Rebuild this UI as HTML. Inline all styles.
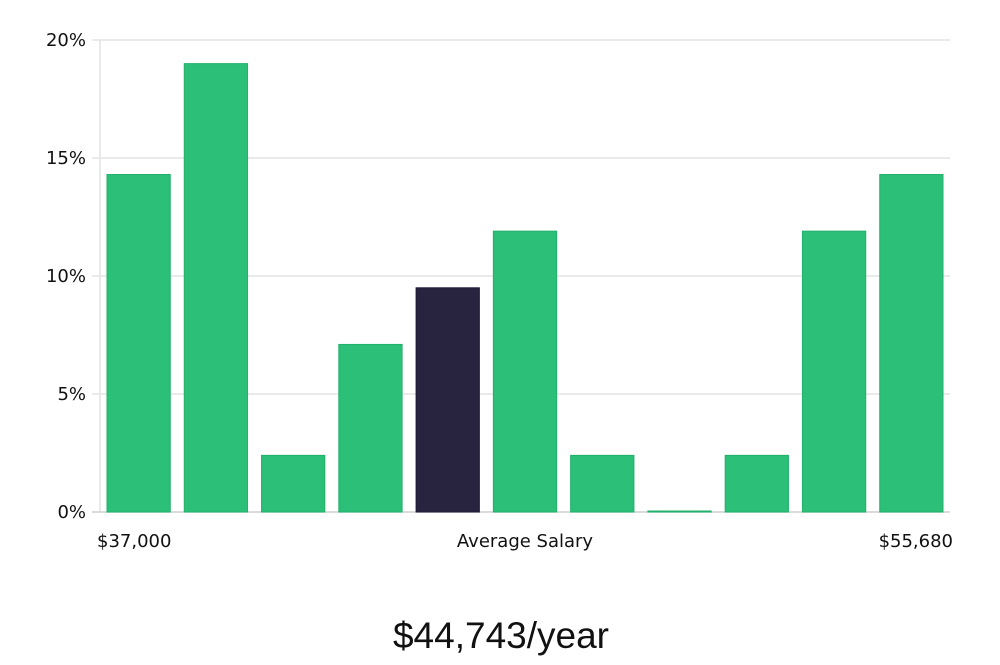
<!DOCTYPE html>
<html><head><meta charset="utf-8"><style>
body{margin:0;background:#fff;width:1000px;height:660px;overflow:hidden}
svg text{font-family:"DejaVu Sans","Liberation Sans",sans-serif;fill:#111}
</style></head><body>
<svg id="chart" width="1000" height="660" xmlns="http://www.w3.org/2000/svg">
<g id="grid"></g><g id="bars"></g><g id="labels"></g>
<text x="97" y="547" font-size="18">$37,000</text>
<text x="525" y="547" font-size="18" text-anchor="middle">Average Salary</text>
<text x="953" y="547" font-size="18" text-anchor="end">$55,680</text>
<text x="501" y="648" font-size="37" text-anchor="middle" font-family="Liberation Sans" style="font-family:'Liberation Sans',sans-serif;font-weight:300">$44,743/year</text>
</svg>
<script>
const categories=["b1","b2","b3","b4","b5","b6","b7","b8","b9","b10","b11"];
const values=[14.3,19.0,2.4,7.1,9.5,11.9,2.4,0,2.4,11.9,14.3];
const highlightIndex=4;
const yTicks=[0,5,10,15,20];
const yTickLabels=["0%","5%","10%","15%","20%"];
const NS="http://www.w3.org/2000/svg";
const x0=100,x1=950,yBase=512,yTop=40,yMax=20;
const y=v=>yBase-(v/yMax)*(yBase-yTop);
const slot=(x1-x0)/categories.length;
const grid=document.getElementById('grid'),bars=document.getElementById('bars'),labels=document.getElementById('labels');
function mk(t,a,p){const e=document.createElementNS(NS,t);for(const k in a)e.setAttribute(k,a[k]);p.appendChild(e);return e;}
const axis=mk('line',{x1:x0,x2:x0,y1:yTop,y2:yBase,stroke:'#d6d6d6','stroke-width':1},grid);


yTicks.forEach((t,i)=>{
 const l=mk('line',{x1:x0-8,x2:x1,y1:y(t),y2:y(t),stroke:i===0?'#cfcfcf':'#e3e3e3','stroke-width':1.5},grid);
 
 
 const tx=mk('text',{x:x0-14,y:y(t)+6,'font-size':18,'text-anchor':'end'},labels);
 tx.textContent=yTickLabels[i];
 
 
});
values.forEach((v,i)=>{
 const bx=x0+i*slot+7,bw=slot-14;
 const h=Math.max(yBase-y(v),1);
 const r=mk('rect',{x:bx,y:yBase-h,width:bw,height:h,fill:i===highlightIndex?'#28243f':'#2bbf78',stroke:i===highlightIndex?'#1e1a38':'#22b06c','stroke-width':1},bars);
 
 
});
</script>
</body></html>
